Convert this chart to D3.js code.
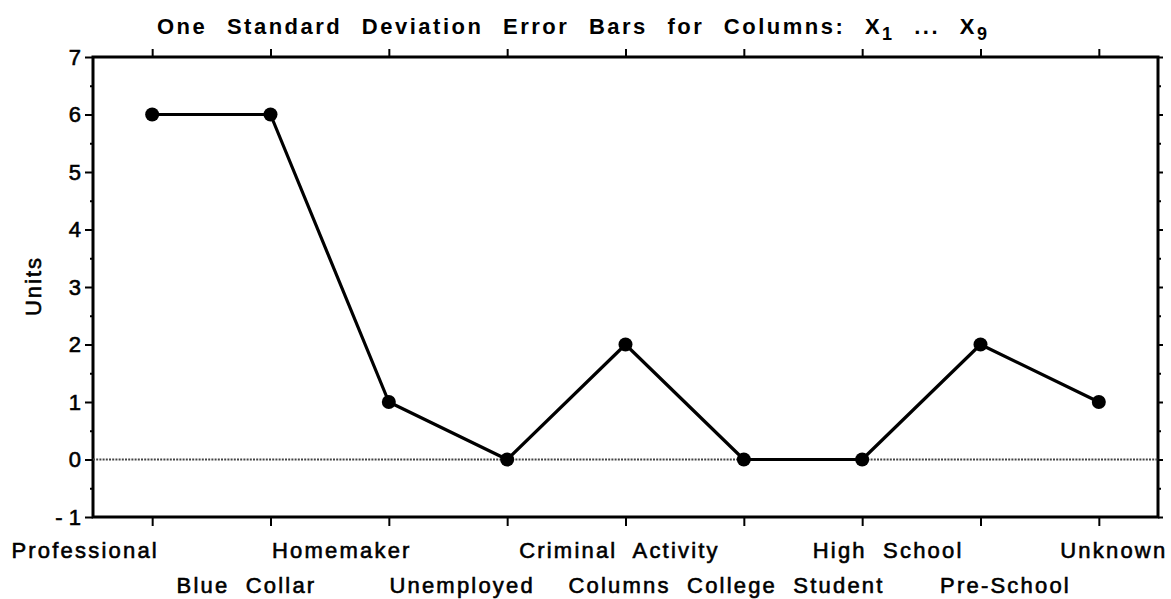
<!DOCTYPE html>
<html>
<head>
<meta charset="utf-8">
<script src="https://cdn.jsdelivr.net/npm/d3@7"></script>
<style>
body { margin: 0; background: #fff; }
text { font-family: "Liberation Sans", Arial, sans-serif; fill: #000; }
</style>
</head>
<body>
<div id="chart"></div>
<script>
// data
const categories = ["Professional", "Blue Collar", "Homemaker", "Unemployed", "Criminal Activity",
                    "College Student", "High School", "Pre-School", "Unknown"];
const values = [6, 6, 1, 0, 2, 0, 0, 2, 1];
const yTicks = [-1, 0, 1, 2, 3, 4, 5, 6, 7];
const yTickLabels = ["- 1", "0", "1", "2", "3", "4", "5", "6", "7"];
const yMinorTicks = [-0.5, 0.5, 1.5, 2.5, 3.5, 4.5, 5.5, 6.5];

const width = 1171, height = 599;
const margin = {top: 57, right: 13, bottom: 82, left: 93};
const w = width - margin.left - margin.right, h = height - margin.top - margin.bottom;

// the original staggers the names in two rows and nudges them unevenly
const labelRow = [0, 1, 0, 1, 0, 1, 0, 1, 0];
const labelShift = [-67, -24, -47, -45, -6, 42, 26, 25, 15];

const svg = d3.select("#chart").append("svg")
    .attr("width", width)
    .attr("height", height);

const g = svg.append("g")
    .attr("transform", `translate(${margin.left},${margin.top})`);

const x = d3.scalePoint().domain(categories).range([0, w]).padding(0.5);
const y = d3.scaleLinear().domain([-1, 7]).range([h, 0]);

function styleAxis(sel) {
  sel.select(".domain").remove();
  sel.selectAll(".tick line").attr("stroke", "#000").attr("stroke-width", 2);
}

// left axis with labels
g.append("g")
    .call(d3.axisLeft(y).tickValues(yTicks).tickFormat((d, i) => yTickLabels[i]).tickSize(8).tickPadding(4))
    .call(styleAxis)
    .selectAll("text")
    .style("font-size", "22px")
    .style("font-family", "'Liberation Sans', Arial, sans-serif")
    .attr("fill", "#000")
    .attr("stroke", "#000").attr("stroke-width", 0.6);

g.append("g")
    .call(d3.axisLeft(y).tickValues(yMinorTicks).tickFormat("").tickSize(3))
    .call(styleAxis);

// right axis
g.append("g")
    .attr("transform", `translate(${w},0)`)
    .call(d3.axisRight(y).tickValues(yTicks).tickFormat("").tickSize(5))
    .call(styleAxis);
g.append("g")
    .attr("transform", `translate(${w},0)`)
    .call(d3.axisRight(y).tickValues(yMinorTicks).tickFormat("").tickSize(3))
    .call(styleAxis);

// top and bottom
g.append("g")
    .call(d3.axisTop(x).tickFormat("").tickSize(8))
    .call(styleAxis);
g.append("g")
    .attr("transform", `translate(0,${h})`)
    .call(d3.axisBottom(x).tickFormat("").tickSize(9))
    .call(styleAxis);

// frame
g.append("rect")
    .attr("width", w).attr("height", h)
    .attr("fill", "none")
    .attr("stroke", "#000")
    .attr("stroke-width", 3);

// zero reference line
g.append("line")
    .attr("x1", 0).attr("x2", w)
    .attr("y1", y(0)).attr("y2", y(0))
    .attr("stroke", "#444")
    .attr("stroke-width", 2)
    .attr("stroke-dasharray", "2,1.2");

// series
const line = d3.line()
    .x((d, i) => x(categories[i]))
    .y(d => y(d));

g.append("path")
    .datum(values)
    .attr("d", line)
    .attr("fill", "none")
    .attr("stroke", "#000")
    .attr("stroke-width", 3.2)
    .attr("stroke-linejoin", "round");

g.selectAll(".dot")
    .data(values)
    .join("circle")
    .attr("class", "dot")
    .attr("cx", (d, i) => x(categories[i]))
    .attr("cy", d => y(d))
    .attr("r", 7)
    .attr("fill", "#000");

// category names
g.selectAll(".cat")
    .data(categories)
    .join("text")
    .attr("class", "cat")
    .attr("x", (d, i) => x(d) + labelShift[i])
    .attr("y", (d, i) => labelRow[i] ? h + 76 : h + 41)
    .attr("text-anchor", "middle")
    .style("font-size", "22px")
    .style("letter-spacing", "2.2px")
    .style("word-spacing", "8px")
    .attr("stroke", "#000").attr("stroke-width", 0.6)
    .text(d => d);

g.append("text")
    .attr("x", w / 2 - 6)
    .attr("y", h + 76)
    .attr("text-anchor", "middle")
    .style("font-size", "22px")
    .style("letter-spacing", "2.2px")
    .attr("stroke", "#000").attr("stroke-width", 0.6)
    .text("Columns");

// y axis title
svg.append("text")
    .attr("transform", `translate(41,${margin.top + y(3) - 1}) rotate(-90)`)
    .attr("text-anchor", "middle")
    .style("font-size", "22px")
    .style("letter-spacing", "2px")
    .attr("stroke", "#000").attr("stroke-width", 0.6)
    .text("Units");

// title
const title = g.append("text")
    .attr("x", 64)
    .attr("y", -23)
    .style("font-size", "22px")
    .style("font-weight", "bold")
    .style("letter-spacing", "2.5px")
    .style("word-spacing", "11px");
title.append("tspan").text("One Standard Deviation Error Bars for Columns: X");
title.append("tspan").attr("dy", 6).style("font-size", "18px").text("1");
title.append("tspan").attr("dy", -6).text(" ... X");
title.append("tspan").attr("dy", 6).style("font-size", "18px").text("9");
</script>
</body>
</html>
